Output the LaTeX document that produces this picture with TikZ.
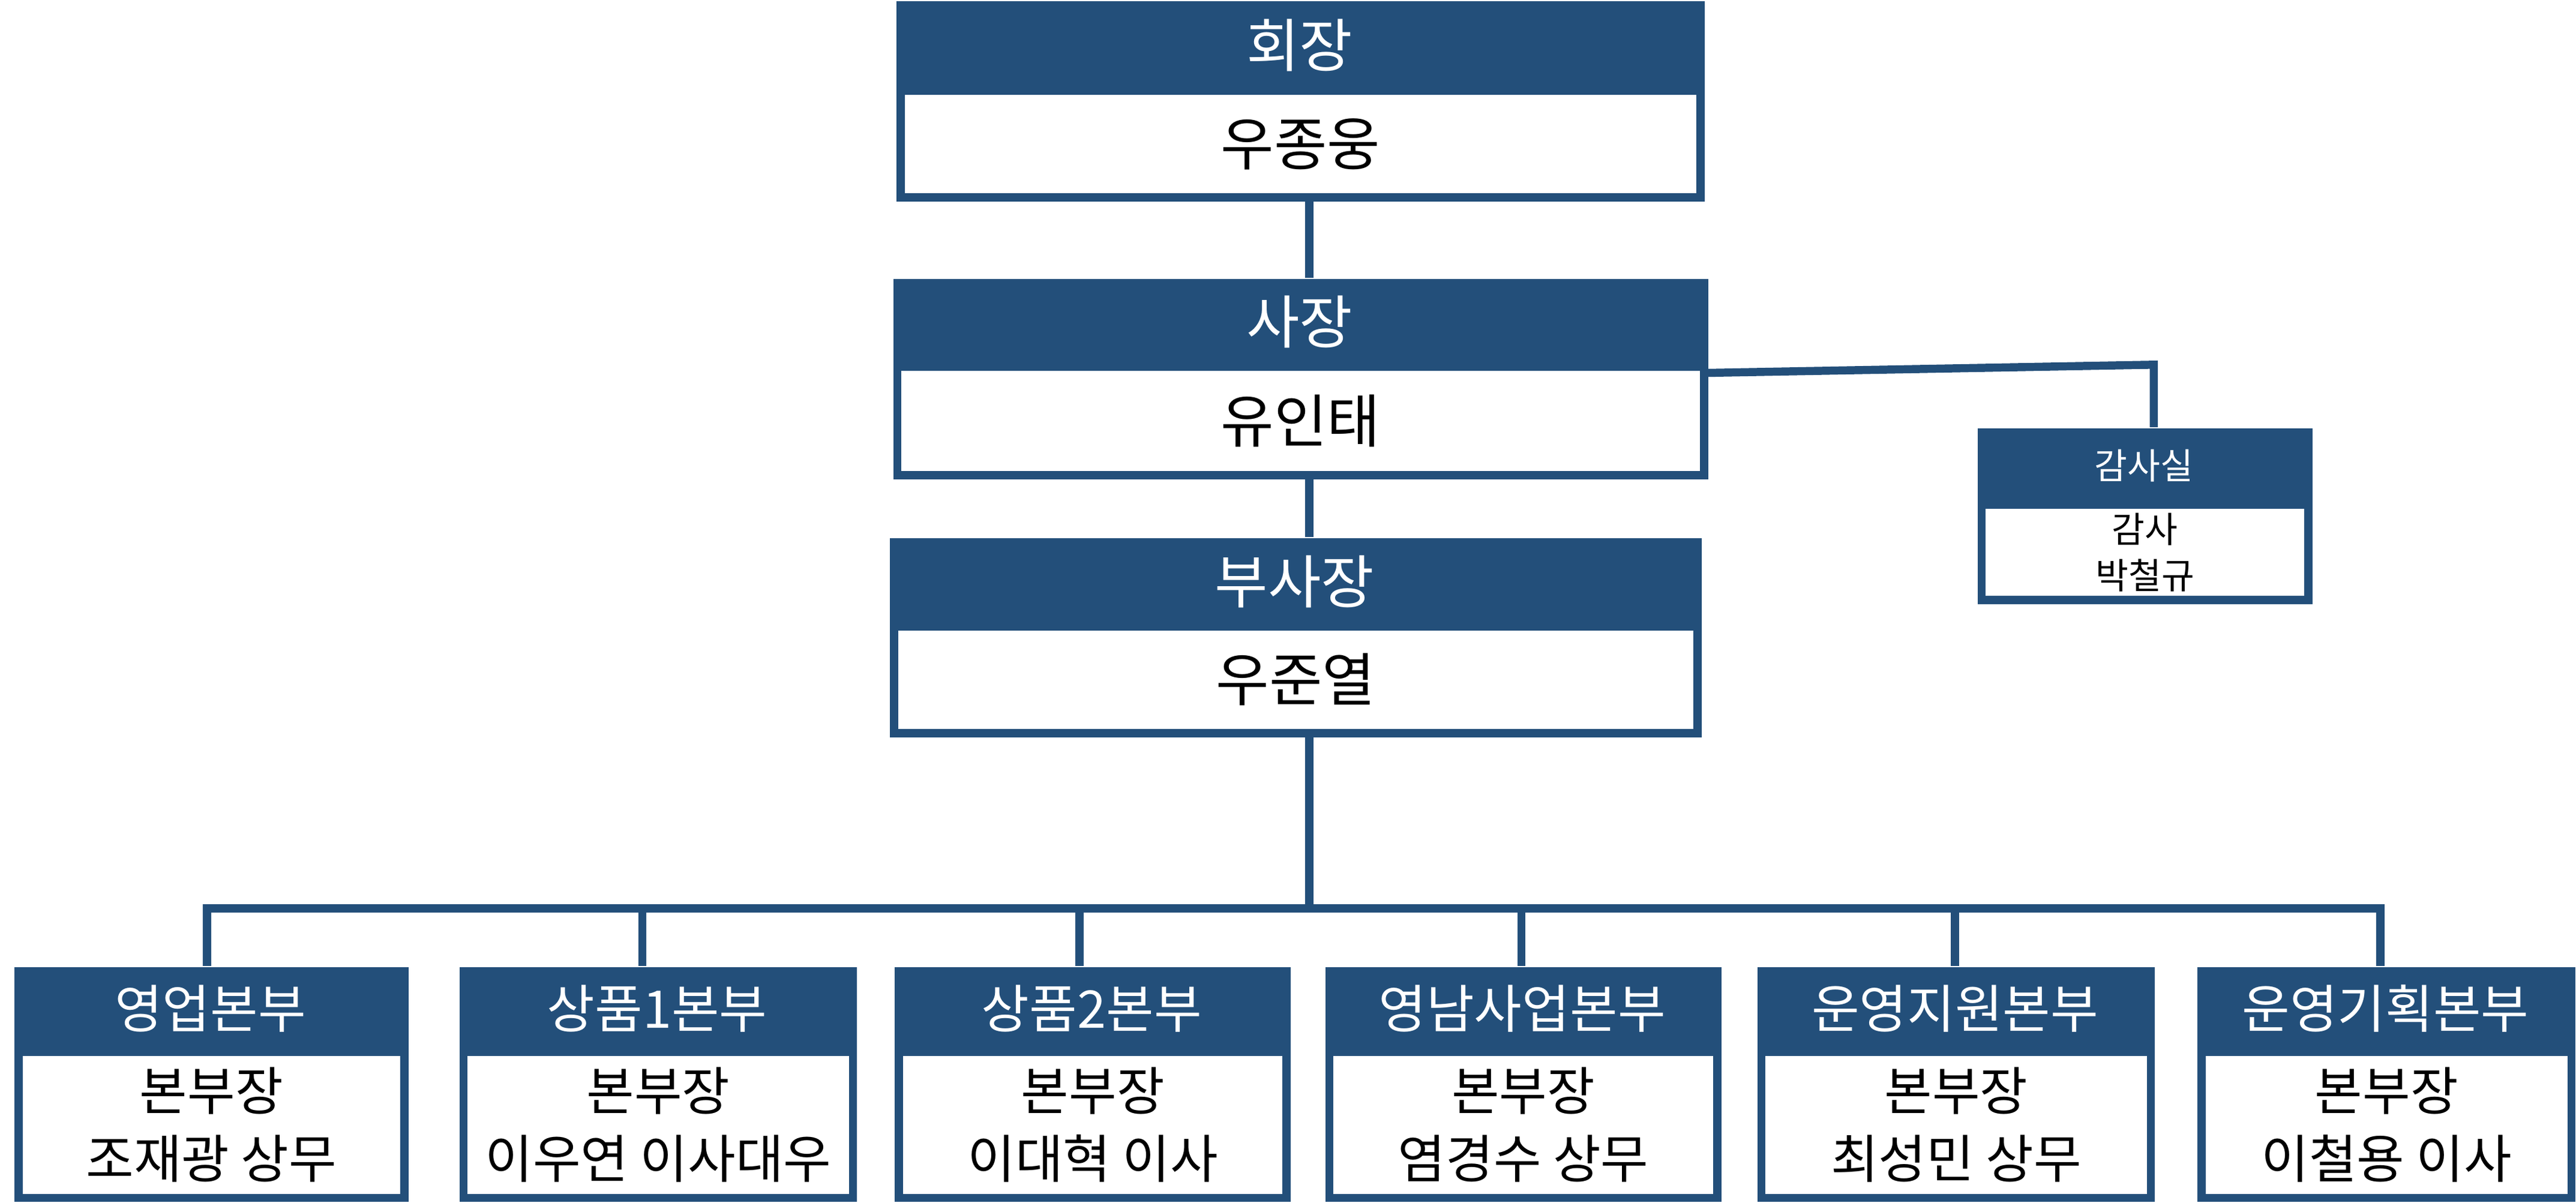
\documentclass[tikz,border=0pt]{standalone}
\usepackage{fontspec}
\setmainfont{Noto Sans CJK KR}
\definecolor{navy}{HTML}{234F7A}
\tikzset{
  outerbox/.style={fill=navy,draw=none,inner sep=0pt,anchor=north west},
  innerbox/.style={fill=white,draw=none,inner sep=0pt,anchor=north west,align=center,text=black},
  headtxt/.style={text=white,inner sep=0pt},
  conn/.style={draw=navy,line width=1.4pt}
}
% name x1 y1 x2 y2 headerbottom title body fontsize
\newcommand\orgbox[9]{%
  \node[outerbox,minimum width={(#4-#2)*0.1mm},minimum height={(#5-#3)*0.1mm}] (#1) at (#2,#3) {};
  \node[headtxt,font=\fontsize{#9}{#9}\selectfont] (#1h) at ({(#2+#4)/2},{(#3+#6)/2}) {#7};
  \node[innerbox,font=\fontsize{#9}{1.3\dimexpr#9\relax}\selectfont,minimum width={(#4-#2-10)*0.1mm},minimum height={(#5-#6-7)*0.1mm}] (#1b) at (#2+5,#6+2) {#8};
}
\begin{document}
\begin{tikzpicture}[x=0.1mm,y=-0.1mm]
\useasboundingbox[fill=white] (0,0) rectangle (1568,732);
\orgbox{ceo}{545}{0}{1037}{122}{55}{회장}{우종웅}{10pt}
\orgbox{pres}{543}{169}{1039}{291}{223}{사장}{유인태}{10pt}
\orgbox{vp}{541}{327}{1035}{448}{381}{부사장}{우준열}{10pt}
\orgbox{aud}{1203}{260}{1407}{367}{307}{감사실}{감사\\박철규}{6.2pt}
\orgbox{b1}{8}{588}{248}{731}{640}{영업본부}{본부장\\조재광 상무}{9pt}
\orgbox{b2}{279}{588}{521}{731}{640}{상품1본부}{본부장\\이우연 이사대우}{9pt}
\orgbox{b3}{544}{588}{785}{731}{640}{상품2본부}{본부장\\이대혁 이사}{9pt}
\orgbox{b4}{806}{588}{1047}{731}{640}{영남사업본부}{본부장\\염경수 상무}{9pt}
\orgbox{b5}{1069}{588}{1311}{731}{640}{운영지원본부}{본부장\\최성민 상무}{9pt}
\orgbox{b6}{1337}{588}{1567}{731}{640}{운영기획본부}{본부장\\이철용 이사}{9pt}
\coordinate (j) at (797,553);
\draw[conn] (797,122) -- (797,169);
\draw[conn] (797,291) -- (797,327);
\draw[conn] (797,448) -- (j);
\draw[conn] (126,588) -- (126,553) -- (1449,553) -- (1449,588);
\foreach \x in {391,657,926,1190} \draw[conn] (\x,553) -- (\x,588);
\draw[conn] (1039,227) -- (1311,222) -- (1311,260);
\end{tikzpicture}
\end{document}
